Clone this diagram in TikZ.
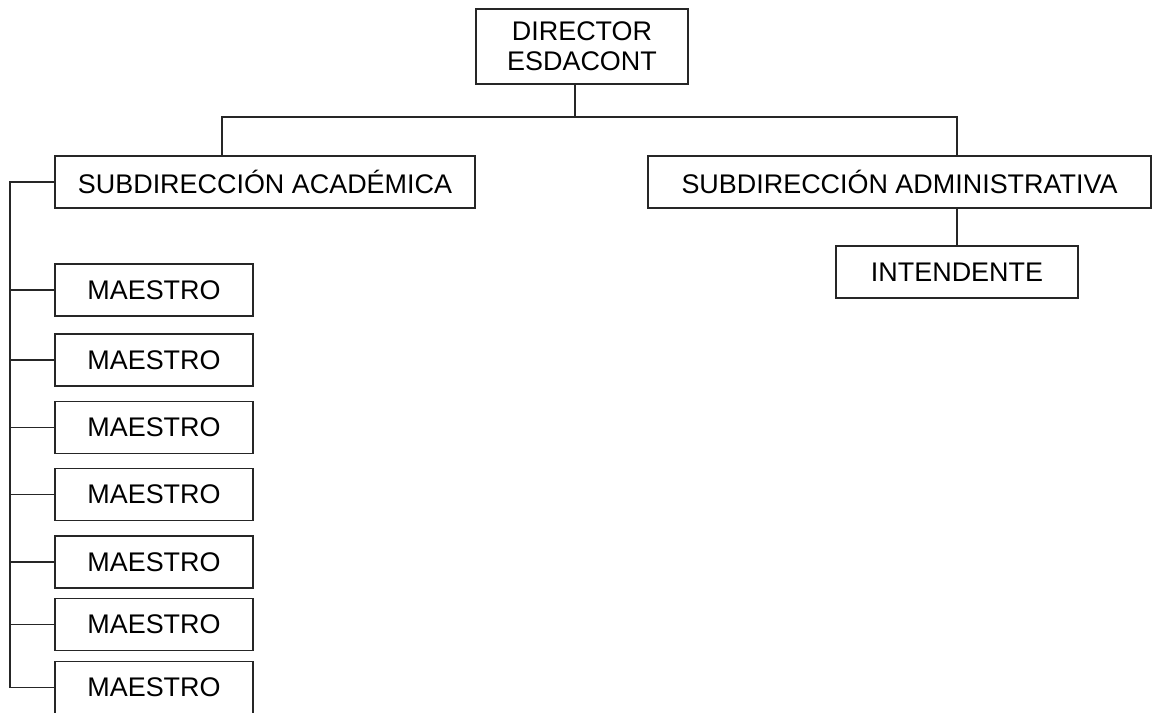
\documentclass[tikz,border=0pt]{standalone}
\usepackage{fontspec}
\setmainfont{Liberation Sans}
\usetikzlibrary{positioning}

\begin{document}
\begin{tikzpicture}[
  x=0.75pt, y=-0.75pt,
  unit/.style={draw=black!85, line width=0.9pt, minimum height=39pt, inner sep=2pt, align=center, font=\fontsize{20.2}{22.5}\selectfont},
  link/.style={draw=black!85, line width=0.9pt}
]
  \useasboundingbox (0,0) rectangle (1152,713);

  \node[unit, minimum width=159pt, minimum height=56.25pt] (dir) at (582,46.5) {DIRECTOR\\ESDACONT};
  \node[unit, minimum width=315pt] (acad) at (265,182) {SUBDIRECCIÓN ACADÉMICA};
  \node[unit, minimum width=377.25pt] (adm) at (899.5,182) {SUBDIRECCIÓN ADMINISTRATIVA};
  \node[unit, minimum width=181.5pt] (intd) at (957,272) {INTENDENTE};

  % maestros
  \foreach \i/\y in {1/290, 2/360, 3/427.5, 4/494.5, 5/562, 6/624.5, 7/687.5}
    \node[unit, minimum width=148.5pt] (m\i) at (154,\y) {MAESTRO};

  \coordinate (hub) at (575,117);
  \coordinate (spine) at (10,182);

  \draw[link] (dir.south -| hub) -- (hub);
  \draw[link] (acad.north -| 222,0) |- (hub) -| (adm.north -| intd);
  \draw[link] (adm.south -| intd) -- (intd.north);
  \draw[link] (acad.west) -- (spine) |- (m7.west);
  \foreach \i in {1,...,6}
    \draw[link] (m\i.west) -- (m\i.west -| spine);
\end{tikzpicture}
\end{document}
